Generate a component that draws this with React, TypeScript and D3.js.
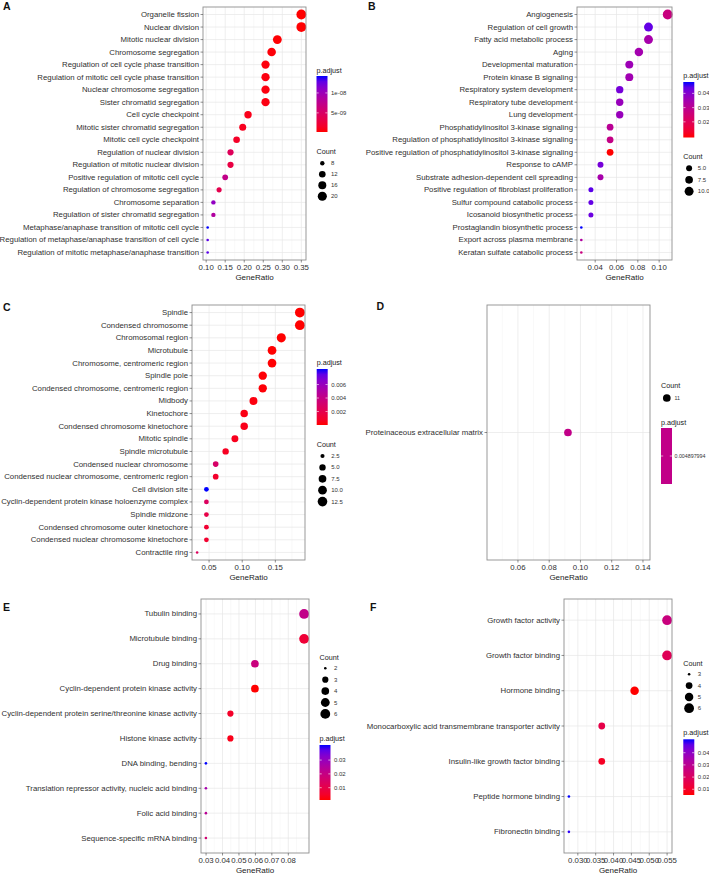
import React from "react";
import * as d3 from "d3";

// ---- data ----
const termsA = [
  "Organelle fission", "Nuclear division", "Mitotic nuclear division", "Chromosome segregation",
  "Regulation of cell cycle phase transition", "Regulation of mitotic cell cycle phase transition",
  "Nuclear chromosome segregation", "Sister chromatid segregation", "Cell cycle checkpoint",
  "Mitotic sister chromatid segregation", "Mitotic cell cycle checkpoint", "Regulation of nuclear division",
  "Regulation of mitotic nuclear division", "Positive regulation of mitotic cell cycle",
  "Regulation of chromosome segregation", "Chromosome separation", "Regulation of sister chromatid segregation",
  "Metaphase/anaphase transition of mitotic cell cycle",
  "Regulation of metaphase/anaphase transition of cell cycle",
  "Regulation of mitotic metaphase/anaphase transition",
];
const ratioA = [0.35, 0.35, 0.287, 0.272, 0.256, 0.256, 0.256, 0.256, 0.21, 0.196, 0.18, 0.164, 0.164, 0.15, 0.134, 0.119, 0.119, 0.104, 0.104, 0.104];
const countA = [23, 23, 19, 18, 17, 17, 17, 17, 14, 13, 12, 11, 11, 10, 9, 8, 8, 7, 7, 7];
const padjA = [2.0e-10, 2.5e-10, 3.0e-10, 4.0e-10, 5.0e-10, 6.0e-10, 5.5e-10, 6.5e-10, 9.0e-10, 1.1e-9, 1.5e-9, 4.3e-9, 3.0e-9, 7.2e-9, 3.6e-9, 1.07e-8, 8.6e-9, 1.425e-8, 1.3e-8, 1.3e-8];
const xTicksA = [0.1, 0.15, 0.2, 0.25, 0.3, 0.35];
const sizeBreaksA = [8, 12, 16, 20];
const padjBreaksA = [5e-9, 1e-8];
const padjLabelsA = ["5e-09", "1e-08"];

const termsB = [
  "Angiogenesis", "Regulation of cell growth", "Fatty acid metabolic process", "Aging",
  "Developmental maturation", "Protein kinase B signaling", "Respiratory system development",
  "Respiratory tube development", "Lung development", "Phosphatidylinositol 3-kinase signaling",
  "Regulation of phosphatidylinositol 3-kinase signaling",
  "Positive regulation of phosphatidylinositol 3-kinase signaling", "Response to cAMP",
  "Substrate adhesion-dependent cell spreading", "Positive regulation of fibroblast proliferation",
  "Sulfur compound catabolic process", "Icosanoid biosynthetic process", "Prostaglandin biosynthetic process",
  "Export across plasma membrane", "Keratan sulfate catabolic process",
];
const ratioB = [0.108, 0.09, 0.09, 0.081, 0.072, 0.072, 0.063, 0.063, 0.063, 0.054, 0.054, 0.054, 0.045, 0.045, 0.036, 0.036, 0.036, 0.027, 0.027, 0.027];
const countB = [12, 10, 10, 9, 8, 8, 7, 7, 7, 6, 6, 6, 5, 5, 4, 4, 4, 3, 3, 3];
const padjB = [0.0268, 0.0438, 0.0343, 0.035, 0.0362, 0.0355, 0.0419, 0.037, 0.037, 0.0305, 0.0279, 0.009, 0.0419, 0.0343, 0.0446, 0.0438, 0.043, 0.048, 0.0324, 0.0268];
const xTicksB = [0.04, 0.06, 0.08, 0.1];
const sizeBreaksB = [5, 7.5, 10];
const padjBreaksB = [0.02, 0.03, 0.04];

const termsC = [
  "Spindle", "Condensed chromosome", "Chromosomal region", "Microtubule", "Chromosome, centromeric region",
  "Spindle pole", "Condensed chromosome, centromeric region", "Midbody", "Kinetochore",
  "Condensed chromosome kinetochore", "Mitotic spindle", "Spindle microtubule", "Condensed nuclear chromosome",
  "Condensed nuclear chromosome, centromeric region", "Cell division site",
  "Cyclin-dependent protein kinase holoenzyme complex", "Spindle midzone",
  "Condensed chromosome outer kinetochore", "Condensed nuclear chromosome kinetochore", "Contractile ring",
];
const ratioC = [0.187, 0.187, 0.159, 0.145, 0.145, 0.131, 0.131, 0.117, 0.103, 0.103, 0.089, 0.075, 0.06, 0.06, 0.046, 0.046, 0.046, 0.046, 0.046, 0.032];
const countC = [13, 13, 11, 10, 10, 9, 9, 8, 7, 7, 6, 5, 4, 4, 3, 3, 3, 3, 3, 2];
const padjC = [1e-6, 2e-6, 5e-6, 2e-5, 3e-5, 8e-5, 1e-4, 2e-4, 3e-4, 4e-4, 5e-4, 6e-4, 0.0029, 0.0009, 0.0083, 0.0026, 0.0018, 0.0011, 0.001, 0.0025];
const xTicksC = [0.05, 0.1, 0.15];
const sizeBreaksC = [2.5, 5, 7.5, 10, 12.5];
const padjBreaksC = [0.002, 0.004, 0.006];

const termsD = ["Proteinaceous extracellular matrix"];
const ratioD = [0.092];
const countD = [11];
const padjD = [0.004897994];
const xDomainD = [0.0402, 0.1445];
const xTicksD = [0.06, 0.08, 0.1, 0.12, 0.14];
const sizeBreaksD = [11];
const padjBreaksD = [0.004897994];
const padjLabelsD = ["0.004897994"];

const termsE = [
  "Tubulin binding", "Microtubule binding", "Drug binding", "Cyclin-dependent protein kinase activity",
  "Cyclin-dependent protein serine/threonine kinase activity", "Histone kinase activity",
  "DNA binding, bending", "Translation repressor activity, nucleic acid binding", "Folic acid binding",
  "Sequence-specific mRNA binding",
];
const ratioE = [0.0896, 0.0896, 0.0597, 0.0597, 0.0448, 0.0448, 0.0299, 0.0299, 0.0299, 0.0299];
const countE = [6, 6, 4, 4, 3, 3, 2, 2, 2, 2];
const padjE = [0.021, 0.007, 0.019, 0.0011, 0.005, 0.003, 0.0409, 0.027, 0.023, 0.017];
const xTicksE = [0.03, 0.04, 0.05, 0.06, 0.07, 0.08];
const sizeBreaksE = [2, 3, 4, 5, 6];
const padjBreaksE = [0.01, 0.02, 0.03];

const termsF = [
  "Growth factor activity", "Growth factor binding", "Hormone binding",
  "Monocarboxylic acid transmembrane transporter activity", "Insulin-like growth factor binding",
  "Peptide hormone binding", "Fibronectin binding",
];
const ratioF = [0.055, 0.055, 0.0459, 0.0367, 0.0367, 0.0275, 0.0275];
const countF = [6, 6, 5, 4, 4, 3, 3];
const padjF = [0.0259, 0.0181, 0.0053, 0.0154, 0.009, 0.051, 0.05];
const xTicksF = [0.03, 0.035, 0.04, 0.045, 0.05, 0.055];
const sizeBreaksF = [3, 4, 5, 6];
const padjBreaksF = [0.01, 0.02, 0.03, 0.04];

const FONT = "'Liberation Sans', Arial, Helvetica, sans-serif";
const R_MIN = 1.3;
const R_MAX = 4.9;

const panels = [
  {
    id: "A", lx: 3, ly: 6, box: { l: 203, r: 306, t: 7, b: 260 },
    terms: termsA, ratio: ratioA, count: countA, padj: padjA, xTicks: xTicksA, fmt: ".2f",
    sizeBreaks: sizeBreaksA, sizeLabels: sizeBreaksA.map(String), padjBreaks: padjBreaksA, padjLabels: padjLabelsA,
    leg: { x: 316.5, pFirst: true, pTitle: 70, barTop: 76, barBottom: 132, cTitle: 151, c0: 163.3, cStep: 11 },
  },
  {
    id: "B", lx: 368, ly: 6, box: { l: 577, r: 672, t: 7, b: 260 },
    terms: termsB, ratio: ratioB, count: countB, padj: padjB, xTicks: xTicksB, fmt: ".2f",
    sizeBreaks: sizeBreaksB, sizeLabels: ["5.0", "7.5", "10.0"], padjBreaks: padjBreaksB, padjLabels: ["0.02", "0.03", "0.04"],
    leg: { x: 683.3, pFirst: true, pTitle: 75.5, barTop: 82, barBottom: 137.5, cTitle: 156, c0: 168.3, cStep: 11.5 },
  },
  {
    id: "C", lx: 3, ly: 306.5, box: { l: 192, r: 305, t: 305, b: 560 },
    terms: termsC, ratio: ratioC, count: countC, padj: padjC, xTicks: xTicksC, fmt: ".2f",
    sizeBreaks: sizeBreaksC, sizeLabels: ["2.5", "5.0", "7.5", "10.0", "12.5"], padjBreaks: padjBreaksC, padjLabels: ["0.002", "0.004", "0.006"],
    leg: { x: 316.7, pFirst: true, pTitle: 362, barTop: 369, barBottom: 425, cTitle: 444, c0: 456, cStep: 11.4 },
  },
  {
    id: "D", lx: 376.5, ly: 306, box: { l: 487, r: 650, t: 305, b: 560 }, xDomain: xDomainD,
    terms: termsD, ratio: ratioD, count: countD, padj: padjD, xTicks: xTicksD, fmt: ".2f",
    sizeBreaks: sizeBreaksD, sizeLabels: ["11"], padjBreaks: padjBreaksD, padjLabels: padjLabelsD,
    leg: { x: 661, pFirst: false, cTitle: 385, c0: 398, cStep: 11, pTitle: 422, barTop: 428, barBottom: 484, labelDx: 13.5, labelSize: 5.3 },
  },
  {
    id: "E", lx: 3, ly: 606.5, box: { l: 201, r: 309, t: 599, b: 853 },
    terms: termsE, ratio: ratioE, count: countE, padj: padjE, xTicks: xTicksE, fmt: ".2f",
    sizeBreaks: sizeBreaksE, sizeLabels: sizeBreaksE.map(String), padjBreaks: padjBreaksE, padjLabels: ["0.01", "0.02", "0.03"],
    leg: { x: 319.5, pFirst: false, cTitle: 657, c0: 668.3, cStep: 11.4, pTitle: 738.3, barTop: 745, barBottom: 800 },
  },
  {
    id: "F", lx: 370, ly: 606.5, box: { l: 564, r: 672, t: 599, b: 853 },
    terms: termsF, ratio: ratioF, count: countF, padj: padjF, xTicks: xTicksF, fmt: ".3f",
    sizeBreaks: sizeBreaksF, sizeLabels: sizeBreaksF.map(String), padjBreaks: padjBreaksF, padjLabels: ["0.01", "0.02", "0.03", "0.04"],
    leg: { x: 683.3, pFirst: false, cTitle: 663, c0: 674.3, cStep: 11.3, pTitle: 732.3, barTop: 739.3, barBottom: 795 },
  },
];

function Panel({ p }: { p: any }) {
  const { box, leg } = p;
  const ext = d3.extent(p.ratio as number[]) as [number, number];
  const pad = (ext[1] - ext[0]) * 0.05;
  const x = d3.scaleLinear()
    .domain(p.xDomain ?? [ext[0] - pad, ext[1] + pad])
    .range([box.l, box.r]);
  const y = d3.scalePoint<string>().domain(p.terms).range([box.t, box.b]).padding(0.6);

  // ggplot area palette: radius grows with sqrt of rescaled count
  const cExt = d3.extent(p.count as number[]) as [number, number];
  const cNorm = d3.scaleLinear().domain(cExt).range([0, 1]).clamp(true);
  const rLin = d3.scaleLinear().domain([0, 1]).range([R_MIN, R_MAX]);
  const r = (v: number) => rLin(Math.sqrt(cNorm(v)));

  const pExt = d3.extent(p.padj as number[]) as [number, number];
  const color = d3.scaleLinear<string>().domain(pExt).range(["red", "blue"]).interpolate(d3.interpolateLab);
  const barY = d3.scaleLinear().domain(pExt).range([leg.barBottom, leg.barTop]);

  const [d0, d1] = x.domain();
  const step = p.xTicks.length > 1 ? p.xTicks[1] - p.xTicks[0] : 0.01;
  const minors = [p.xTicks[0] - step / 2, ...p.xTicks.map((t: number) => t + step / 2)]
    .filter((t: number) => t > d0 && t < d1);

  const fmt = d3.format(p.fmt);
  const gid = `grad${p.id}`;
  const stops = d3.range(0, 1.0001, 0.1);
  const labelDx = leg.labelDx ?? 14.5;
  const labelSize = leg.labelSize ?? 6;

  const pLegend = (
    <g>
      <text x={leg.x} y={leg.pTitle} fontSize={7.2} fill="#1a1a1a" dominantBaseline="central">p.adjust</text>
      <rect x={leg.x} y={leg.barTop} width={11} height={leg.barBottom - leg.barTop} fill={`url(#${gid})`} />
      {p.padjBreaks.map((v: number, i: number) => (
        <g key={i}>
          <line x1={leg.x} x2={leg.x + 2.2} y1={barY(v)} y2={barY(v)} stroke="white" strokeWidth={0.6} />
          <line x1={leg.x + 8.8} x2={leg.x + 11} y1={barY(v)} y2={barY(v)} stroke="white" strokeWidth={0.6} />
          <text x={leg.x + labelDx} y={barY(v)} fontSize={labelSize} fill="#333" dominantBaseline="central">{p.padjLabels[i]}</text>
        </g>
      ))}
    </g>
  );
  const cLegend = (
    <g>
      <text x={leg.x} y={leg.cTitle} fontSize={7.2} fill="#1a1a1a" dominantBaseline="central">Count</text>
      {p.sizeBreaks.map((v: number, i: number) => (
        <g key={i}>
          <circle cx={leg.x + 5.8} cy={leg.c0 + i * leg.cStep} r={r(v)} fill="black" />
          <text x={leg.x + labelDx} y={leg.c0 + i * leg.cStep} fontSize={labelSize} fill="#333" dominantBaseline="central">{p.sizeLabels[i]}</text>
        </g>
      ))}
    </g>
  );

  return (
    <g fontFamily={FONT}>
      <defs>
        <linearGradient id={gid} x1="0" y1="1" x2="0" y2="0">
          {stops.map((s) => (
            <stop key={s} offset={s} stopColor={color(pExt[0] + s * (pExt[1] - pExt[0]))} />
          ))}
        </linearGradient>
      </defs>
      <text x={p.lx} y={p.ly} fontSize={10.5} fontWeight="bold" fill="#111" dominantBaseline="central">{p.id}</text>

      <rect x={box.l} y={box.t} width={box.r - box.l} height={box.b - box.t} fill="white" />
      {minors.map((t: number) => (
        <line key={`m${t}`} x1={x(t)} x2={x(t)} y1={box.t} y2={box.b} stroke="#F2F2F2" strokeWidth={0.5} />
      ))}
      {p.xTicks.map((t: number) => (
        <line key={`g${t}`} x1={x(t)} x2={x(t)} y1={box.t} y2={box.b} stroke="#E6E6E6" strokeWidth={0.7} />
      ))}
      {p.terms.map((d: string) => (
        <line key={`h${d}`} x1={box.l} x2={box.r} y1={y(d)} y2={y(d)} stroke="#E6E6E6" strokeWidth={0.7} />
      ))}

      {p.terms.map((d: string, i: number) => (
        <circle key={`p${d}`} cx={x(p.ratio[i])} cy={y(d)} r={r(p.count[i])} fill={color(p.padj[i])} />
      ))}

      <rect x={box.l} y={box.t} width={box.r - box.l} height={box.b - box.t} fill="none" stroke="#8f8f8f" strokeWidth={0.9} />

      {p.terms.map((d: string) => (
        <g key={`y${d}`}>
          <line x1={box.l - 2.5} x2={box.l} y1={y(d)} y2={y(d)} stroke="#444" strokeWidth={0.6} />
          <text x={box.l - 4} y={y(d)} fontSize={7.8} fill="#303030" textAnchor="end" dominantBaseline="central">{d}</text>
        </g>
      ))}
      {p.xTicks.map((t: number) => (
        <g key={`x${t}`}>
          <line x1={x(t)} x2={x(t)} y1={box.b} y2={box.b + 2.5} stroke="#444" strokeWidth={0.6} />
          <text x={x(t)} y={box.b + 7.8} fontSize={7.8} fill="#303030" textAnchor="middle" dominantBaseline="central">{fmt(t)}</text>
        </g>
      ))}
      <text x={(box.l + box.r) / 2} y={box.b + 17} fontSize={8} fill="#1a1a1a" textAnchor="middle" dominantBaseline="central">GeneRatio</text>

      {leg.pFirst ? pLegend : cLegend}
      {leg.pFirst ? cLegend : pLegend}
    </g>
  );
}

export default function App() {
  return (
    <svg
      width={709}
      height={874}
      viewBox="0 0 709 874"
      style={{ position: "absolute", left: 0, top: 0, background: "white" }}
    >
      <rect width={709} height={874} fill="white" />
      {panels.map((p) => (
        <Panel key={p.id} p={p} />
      ))}
    </svg>
  );
}
